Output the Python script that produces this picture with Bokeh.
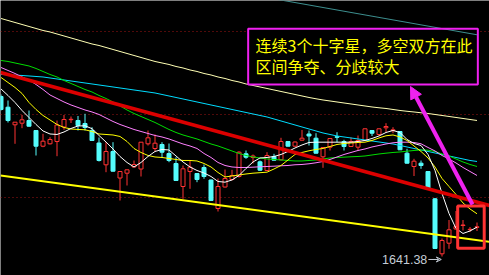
from bokeh.plotting import figure
from bokeh.models import Range1d, Label, Arrow, NormalHead, VeeHead, ColumnDataSource, Span, BoxAnnotation
from bokeh.embed import file_html
from bokeh.resources import INLINE

# ---- daily K-line data (index points) ----
opens = [1801.38, 1790.68, 1773.08, 1774.68, 1777.38, 1767.38, 1751.68, 1754.08, 1756.38, 1770.88,
         1778.18, 1777.38, 1774.38, 1767.38, 1754.88, 1733.08, 1746.38, 1719.88, 1724.68, 1730.88,
         1728.88, 1754.08, 1749.38, 1753.38, 1744.38, 1734.38, 1711.38, 1726.38, 1724.38, 1730.38,
         1717.88, 1689.38, 1710.88, 1718.38, 1721.38, 1744.08, 1740.38, 1736.08, 1727.38, 1741.38,
         1738.08, 1756.38, 1751.68, 1757.68, 1763.88, 1759.68, 1741.08, 1750.68, 1761.18, 1756.38,
         1751.38, 1750.68, 1757.38, 1767.38, 1763.38, 1770.08, 1767.38, 1766.38, 1744.68, 1731.38,
         1734.68, 1726.38, 1699.08, 1644.08, 1654.68, 1668.88, 1672.38, 1668.18, 1670.58]
highs = [1803.38, 1797.38, 1775.68, 1782.88, 1787.38, 1767.38, 1764.08, 1760.68, 1777.38, 1782.88,
         1781.38, 1781.88, 1784.08, 1770.68, 1760.38, 1755.68, 1755.68, 1726.38, 1728.38, 1737.38,
         1755.68, 1767.38, 1763.38, 1755.68, 1754.38, 1740.68, 1732.38, 1737.38, 1724.88, 1733.38,
         1718.38, 1719.38, 1728.38, 1728.08, 1746.68, 1747.38, 1743.38, 1737.38, 1745.68, 1744.08,
         1760.08, 1756.88, 1756.38, 1767.88, 1767.38, 1764.68, 1750.88, 1759.88, 1765.68, 1758.08,
         1760.38, 1762.38, 1769.38, 1767.88, 1769.38, 1774.68, 1770.68, 1766.88, 1749.08, 1739.08,
         1737.38, 1726.88, 1699.88, 1659.38, 1677.88, 1686.88, 1677.88, 1670.88, 1675.38]
lows = [1787.38, 1775.38, 1754.08, 1769.68, 1771.38, 1742.38, 1750.68, 1753.38, 1741.68, 1768.08,
        1774.88, 1767.38, 1767.38, 1757.38, 1736.38, 1725.68, 1726.38, 1697.38, 1712.38, 1730.38,
        1721.38, 1752.38, 1746.38, 1740.38, 1735.68, 1717.38, 1699.08, 1709.08, 1715.68, 1719.08,
        1696.88, 1686.38, 1710.38, 1717.38, 1720.38, 1739.08, 1734.38, 1726.88, 1726.88, 1737.38,
        1737.38, 1751.38, 1750.88, 1757.38, 1752.38, 1744.38, 1730.08, 1747.38, 1755.68, 1747.38,
        1750.88, 1747.38, 1756.88, 1761.88, 1762.38, 1765.68, 1764.68, 1747.88, 1734.38, 1721.88,
        1729.08, 1708.88, 1648.88, 1641.38, 1649.08, 1668.38, 1667.38, 1665.88, 1666.88]
closes = [1788.38, 1777.38, 1775.68, 1778.08, 1771.68, 1751.68, 1756.68, 1758.38, 1772.88, 1778.38,
          1778.58, 1772.38, 1770.38, 1757.38, 1737.38, 1746.38, 1726.68, 1726.38, 1728.08, 1733.38,
          1755.68, 1760.08, 1754.68, 1745.68, 1737.38, 1717.38, 1729.08, 1730.68, 1718.38, 1721.38,
          1697.38, 1711.38, 1719.38, 1722.38, 1745.68, 1740.68, 1741.88, 1727.68, 1742.38, 1737.68,
          1756.38, 1751.68, 1755.88, 1759.68, 1761.88, 1744.68, 1750.38, 1759.38, 1760.58, 1751.38,
          1756.38, 1757.38, 1769.08, 1764.68, 1769.08, 1771.38, 1768.08, 1748.08, 1734.68, 1736.68,
          1732.38, 1709.08, 1649.38, 1657.38, 1668.08, 1671.38, 1672.88, 1668.58, 1671.08]

# ---- moving averages ----
ma5 = [1808.9, 1802.4, 1795.4, 1787.4, 1780.4, 1773.4, 1766.9, 1763.9, 1763.4, 1765.9,
       1769.4, 1771.9, 1772.1, 1769.2, 1762.4, 1755.9, 1748.9, 1741.4, 1735.4, 1730.9,
       1735.4, 1741.4, 1746.4, 1748.4, 1747.9, 1741.9, 1735.9, 1730.9, 1727.4, 1724.9,
       1721.4, 1716.4, 1715.7, 1717.9, 1722.4, 1729.4, 1735.9, 1739.9, 1740.4, 1741.4,
       1743.4, 1746.4, 1749.9, 1752.9, 1755.4, 1755.7, 1755.7, 1755.7, 1755.7, 1755.7,
       1755.7, 1756.4, 1757.4, 1759.4, 1761.9, 1765.4, 1767.4, 1765.4, 1758.4, 1754.4,
       1752.4, 1743.4, 1727.4, 1704.4, 1684.4, 1669.4, 1664.4, 1666.9, 1670.7]
ma10 = [1820.4, 1815.4, 1810.4, 1804.4, 1795.4, 1788.4, 1782.4, 1777.9, 1773.4, 1770.4,
        1768.9, 1768.4, 1768.1, 1766.4, 1763.9, 1763.4, 1762.9, 1761.4, 1756.4, 1749.4,
        1745.4, 1742.4, 1740.9, 1740.4, 1739.4, 1738.4, 1737.4, 1737.4, 1736.9, 1734.4,
        1730.9, 1725.4, 1720.9, 1721.9, 1722.9, 1723.9, 1724.7, 1725.2, 1725.7, 1728.9,
        1732.4, 1737.9, 1743.4, 1745.4, 1747.1, 1748.4, 1749.4, 1751.4, 1753.4, 1754.4,
        1754.9, 1755.4, 1755.7, 1757.4, 1759.9, 1762.1, 1762.9, 1760.9, 1757.4, 1751.9,
        1746.4, 1739.9, 1730.9, 1719.4, 1711.4, 1703.4, 1694.9, 1688.9, 1684.1]
ma20 = [1830.4, 1827.4, 1824.4, 1820.9, 1817.9, 1813.4, 1808.4, 1802.9, 1799.4, 1795.9,
        1792.9, 1790.4, 1787.9, 1785.9, 1783.4, 1779.9, 1776.4, 1773.4, 1770.9, 1768.4,
        1766.4, 1764.4, 1762.4, 1760.9, 1758.9, 1756.4, 1753.9, 1751.9, 1749.4, 1744.4,
        1740.4, 1735.4, 1732.4, 1730.9, 1730.4, 1730.4, 1730.7, 1731.1, 1731.4, 1731.7,
        1732.1, 1732.4, 1733.1, 1733.4, 1734.1, 1735.1, 1736.4, 1738.4, 1740.9, 1743.4,
        1745.4, 1747.4, 1748.9, 1750.9, 1752.4, 1753.9, 1755.1, 1755.7, 1755.7, 1755.4,
        1754.1, 1750.4, 1746.9, 1742.4, 1738.9, 1734.9, 1730.4, 1726.4, 1722.4]
ma30 = [1837.4, 1836.4, 1834.9, 1833.4, 1831.9, 1829.4, 1826.4, 1823.4, 1820.9, 1817.4,
        1814.4, 1811.4, 1808.4, 1805.9, 1802.4, 1799.4, 1795.9, 1791.9, 1787.9, 1784.4,
        1781.4, 1778.4, 1775.4, 1771.9, 1768.4, 1765.4, 1762.9, 1760.9, 1758.9, 1756.4,
        1753.9, 1751.9, 1749.4, 1746.9, 1744.4, 1742.4, 1740.9, 1739.9, 1738.9, 1738.4,
        1737.9, 1737.4, 1736.9, 1736.9, 1737.4, 1737.9, 1738.9, 1739.9, 1740.4, 1740.7,
        1741.1, 1741.4, 1741.9, 1742.9, 1743.9, 1744.7, 1745.4, 1745.9, 1746.7, 1747.4,
        1747.9, 1747.7, 1746.4, 1743.9, 1741.9, 1738.9, 1735.9, 1733.4, 1731.4]
ma60 = [1823.4, 1823.1, 1822.7, 1822.4, 1821.9, 1821.4, 1820.9, 1819.9, 1818.9, 1817.9,
        1816.9, 1815.9, 1814.9, 1813.9, 1812.9, 1811.9, 1810.9, 1809.9, 1808.9, 1807.9,
        1806.9, 1805.9, 1804.9, 1803.4, 1801.9, 1800.4, 1798.9, 1797.4, 1795.9, 1794.4,
        1792.9, 1791.4, 1789.9, 1788.4, 1786.9, 1785.4, 1783.9, 1782.4, 1780.9, 1778.9,
        1776.9, 1774.9, 1772.9, 1770.9, 1768.9, 1766.9, 1764.9, 1763.4, 1761.9, 1760.9,
        1759.9, 1758.9, 1757.9, 1756.9, 1755.9, 1754.9, 1753.9, 1752.4, 1750.9, 1749.4,
        1747.9, 1746.4, 1744.9, 1743.4, 1741.9, 1740.4, 1738.9, 1737.4, 1736.4]
ma120 = [1879.4, 1877.4, 1875.4, 1873.4, 1871.4, 1869.4, 1867.4, 1865.9, 1863.9, 1861.9,
         1859.9, 1857.9, 1855.9, 1853.9, 1852.4, 1850.4, 1848.4, 1846.4, 1844.4, 1842.4,
         1840.4, 1838.4, 1836.4, 1834.9, 1833.4, 1831.4, 1829.9, 1827.9, 1826.4, 1824.4,
         1822.9, 1820.9, 1819.4, 1817.4, 1815.9, 1813.9, 1812.4, 1810.9, 1809.4, 1807.9,
         1806.4, 1804.9, 1803.4, 1801.9, 1800.4, 1799.1, 1797.9, 1796.9, 1795.9, 1794.9,
         1793.9, 1792.9, 1791.9, 1790.9, 1790.1, 1789.4, 1788.4, 1787.4, 1786.6, 1785.9,
         1785.1, 1784.4, 1783.4, 1782.4, 1781.4, 1780.4, 1779.4, 1778.4, 1777.4]
ma250_day = [38, 53, 68]
ma250 = [1900.3, 1881.7, 1863.1]

# ---- hand-drawn trend lines ----
trend_day = [-0.07, 69.79]
trend_upper = [1825.38, 1692.38]
trend_lower = [1722.38, 1656.08]

# horizontal reference levels
levels = [1866.38, 1783.38, 1700.38]

RED = "#ff3232"
CYAN = "#54fcfc"

n = len(opens)
day = list(range(n))
is_up = [c >= o for o, c in zip(opens, closes)]


def subset(flag):
    idx = [i for i in day if is_up[i] == flag]
    return ColumnDataSource(dict(
        x=idx,
        high=[highs[i] for i in idx],
        low=[lows[i] for i in idx],
        top=[max(opens[i], closes[i]) for i in idx],
        bottom=[min(opens[i], closes[i]) for i in idx],
    ))


up_src = subset(True)
dn_src = subset(False)

p = figure(width=489, height=275,
           x_range=Range1d(-0.5 / 7, 488.5 / 7), y_range=Range1d(1622.38, 1897.38),
           x_axis_type=None, y_axis_type=None,
           toolbar_location=None, output_backend="svg",
           background_fill_color="black", border_fill_color="black", min_border=0)
p.outline_line_color = None
p.xgrid.visible = False
p.ygrid.visible = False

for lv in levels:
    p.add_layout(Span(location=lv, dimension="width", line_color="#a01414",
                      line_width=1, line_dash="1 3", level="underlay"))

# background panel of the note
note_l, note_r, note_b, note_t = 35.31, 68.12, 1813.4, 1869.1
p.quad(left=[note_l], right=[note_r], bottom=[note_b], top=[note_t],
       fill_color="black", line_color=None)

# candles
p.segment(x0="x", y0="high", x1="x", y1="low", source=up_src, line_color=RED, line_width=1)
p.segment(x0="x", y0="high", x1="x", y1="low", source=dn_src, line_color=CYAN, line_width=1)
p.vbar(x="x", width=4 / 7, top="top", bottom="bottom", source=up_src,
       fill_color="black", line_color=RED, line_width=1)
p.vbar(x="x", width=4 / 7, top="top", bottom="bottom", source=dn_src,
       fill_color=CYAN, line_color=CYAN, line_width=1)

# moving averages
p.line(ma250_day, ma250, line_color="#3d8f8f", line_width=1)
p.line(day, ma120, line_color="#ffffb4", line_width=1)
p.line(day, ma60, line_color="#00dcff", line_width=1)
p.line(day, ma30, line_color="#00dd00", line_width=1)
p.line(day, ma20, line_color="#ff80ff", line_width=1)
p.line(day, ma10, line_color="#ffff00", line_width=1)
p.line(day, ma5, line_color="#ffffff", line_width=1)

# trend channel
p.line(trend_day, trend_upper, line_color="#dc0000", line_width=3.5)
p.line(trend_day, trend_lower, line_color="#ffff00", line_width=2)

# highlight of the three doji
p.add_layout(BoxAnnotation(left=65.24, right=69.03, bottom=1649.6, top=1691.9,
                           fill_alpha=0, line_alpha=1, line_color="#ff3333", line_width=3))

# note box and text
p.add_layout(BoxAnnotation(left=note_l, right=note_r, bottom=note_b, top=note_t,
                           fill_alpha=0, line_alpha=1, line_color="#f020f0", line_width=2))
p.add_layout(Label(x=36.36, y=1853.2, text="连续3个十字星，多空双方在此",
                   text_font="Noto Sans CJK SC", text_font_size="16px",
                   text_color="#ffff00", text_baseline="middle"))
p.add_layout(Label(x=36.36, y=1831.9, text="区间争夺、分歧较大",
                   text_font="Noto Sans CJK SC", text_font_size="16px",
                   text_color="#ffff00", text_baseline="middle"))

# pointer from the doji box to the note
p.add_layout(Arrow(x_start=67.36, y_start=1693.4, x_end=58.5, y_end=1811.4,
                   line_color="#ee22ee", line_width=4,
                   end=NormalHead(size=12, fill_color="#ee22ee", line_color="#ee22ee")))

# low marker
low_i = lows.index(min(lows))
p.add_layout(Label(x=60.9, y=1638.7, text=f"{lows[low_i]:.2f}",
                   text_font="Liberation Sans", text_font_size="12.5px",
                   text_color="#c4ccd6", text_align="right", text_baseline="middle"))
p.add_layout(Arrow(x_start=61.05, y_start=1638.4, x_end=low_i - 0.1, y_end=1638.4,
                   line_color="#c4ccd6", line_width=1,
                   end=VeeHead(size=5, line_color="#c4ccd6", line_width=1)))

with open("out.html", "w", encoding="utf-8") as f:
    f.write(file_html(p, INLINE))
